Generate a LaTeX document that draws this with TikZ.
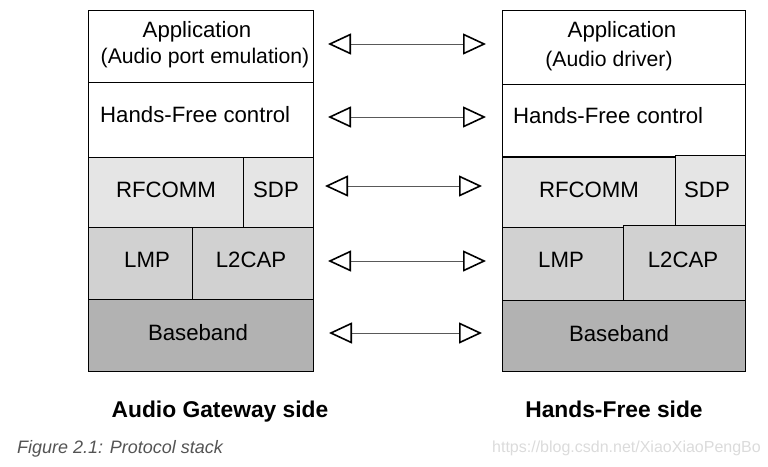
\documentclass[tikz,border=0pt]{standalone}
\usepackage{fontspec}
\setmainfont{Liberation Sans}
\usetikzlibrary{arrows.meta}
\definecolor{rowA}{gray}{0.90}
\definecolor{rowB}{gray}{0.82}
\definecolor{rowC}{gray}{0.70}
\definecolor{shaftc}{gray}{0.35}
\definecolor{capc}{gray}{0.33}
\definecolor{wmc}{gray}{0.86}
\tikzset{
  box/.style={draw=black, line width=1.4pt, inner sep=0pt, anchor=north west},
  lbl/.style={inner sep=0pt, anchor=base, font=\fontsize{22.2}{24}\selectfont},
  sublbl/.style={inner sep=0pt, anchor=base, font=\fontsize{21.2}{23}\selectfont},
  lbll/.style={inner sep=0pt, anchor=base west, font=\fontsize{22.2}{24}\selectfont},
  side/.style={inner sep=0pt, anchor=base, font=\fontsize{22.8}{24}\selectfont\bfseries},
  dbl/.style={draw=shaftc, line width=1pt,
    {Triangle[length=23pt,width=21pt,line width=1.6pt,color=black,fill=white]}-{Triangle[length=23pt,width=21pt,line width=1.6pt,color=black,fill=white]}}
}
\begin{document}
\begin{tikzpicture}[x=1pt,y=-1pt]
\useasboundingbox (0,0) rectangle (768,466);
% left stack
\node[box, minimum width=225pt, minimum height=72pt] (lapp) at (88,10) {};
\node[box, minimum width=225pt, minimum height=75pt] (lhf) at (88,82) {};
\node[box, fill=rowA, minimum width=155pt, minimum height=70pt] (lrf) at (88,157) {};
\node[box, fill=rowA, minimum width=70pt, minimum height=70pt] (lsdp) at (243,157) {};
\node[box, fill=rowB, minimum width=104pt, minimum height=72pt] (llmp) at (88,227) {};
\node[box, fill=rowB, minimum width=121pt, minimum height=72pt] (ll2) at (192,227) {};
\node[box, fill=rowC, minimum width=225pt, minimum height=72pt] (lbb) at (88,299) {};
% right stack
\node[box, minimum width=243pt, minimum height=74pt] (rapp) at (502,10) {};
\node[box, minimum width=243pt, minimum height=72pt] (rhf) at (502,84) {};
\node[box, fill=rowA, minimum width=173pt, minimum height=70pt] (rrf) at (502,157) {};
\node[box, fill=rowA, minimum width=70pt, minimum height=70pt] (rsdp) at (675,155) {};
\node[box, fill=rowB, minimum width=121pt, minimum height=73pt] (rlmp) at (502,227) {};
\node[box, fill=rowB, minimum width=122pt, minimum height=75pt] (rl2) at (623,225) {};
\node[box, fill=rowC, minimum width=243pt, minimum height=71pt] (rbb) at (502,300) {};
% left labels
\node[lbl] (t1) at (197,37) {Application};
\node[sublbl] (t2) at (205,63) {(Audio port emulation)};
\node[lbll] (t3) at (100,122) {Hands-Free control};
\node[lbl] (t4) at (166,197) {RFCOMM};
\node[lbl] (t5) at (276,197) {SDP};
\node[lbl] (t6) at (147,267) {LMP};
\node[lbl] (t7) at (251,267) {L2CAP};
\node[lbl] (t8) at (198,340) {Baseband};
% right labels
\node[lbl] (u1) at (622,37) {Application};
\node[sublbl] (u2) at (609,66) {(Audio driver)};
\node[lbll] (u3) at (513,123) {Hands-Free control};
\node[lbl] (u4) at (589,197) {RFCOMM};
\node[lbl] (u5) at (707,197) {SDP};
\node[lbl] (u6) at (561,267) {LMP};
\node[lbl] (u7) at (683,267) {L2CAP};
\node[lbl] (u8) at (619,341) {Baseband};
% arrows
\coordinate (a1l) at (328,44);  \coordinate (a1r) at (486,44);
\coordinate (a2l) at (328,117); \coordinate (a2r) at (486,117);
\coordinate (a3l) at (325,186); \coordinate (a3r) at (482,186);
\coordinate (a4l) at (328,261); \coordinate (a4r) at (486,261);
\coordinate (a5l) at (329,333); \coordinate (a5r) at (482,333);
\draw[dbl] (a1l) -- (a1r);
\draw[dbl] (a2l) -- (a2r);
\draw[dbl] (a3l) -- (a3r);
\draw[dbl] (a4l) -- (a4r);
\draw[dbl] (a5l) -- (a5r);
% captions
\node[side] (sl) at (220,417) {Audio Gateway side};
\node[side] (sr) at (614,417) {Hands-Free side};
\node[inner sep=0pt, anchor=base west, text=capc, font=\fontsize{18}{20}\selectfont\itshape] (cap) at (17,453) {Figure 2.1: Protocol stack};
\node[inner sep=0pt, anchor=base east, text=wmc, font=\fontsize{16}{18}\selectfont] (wm) at (761,452) {https://blog.csdn.net/XiaoXiaoPengBo};
\end{tikzpicture}
\end{document}
